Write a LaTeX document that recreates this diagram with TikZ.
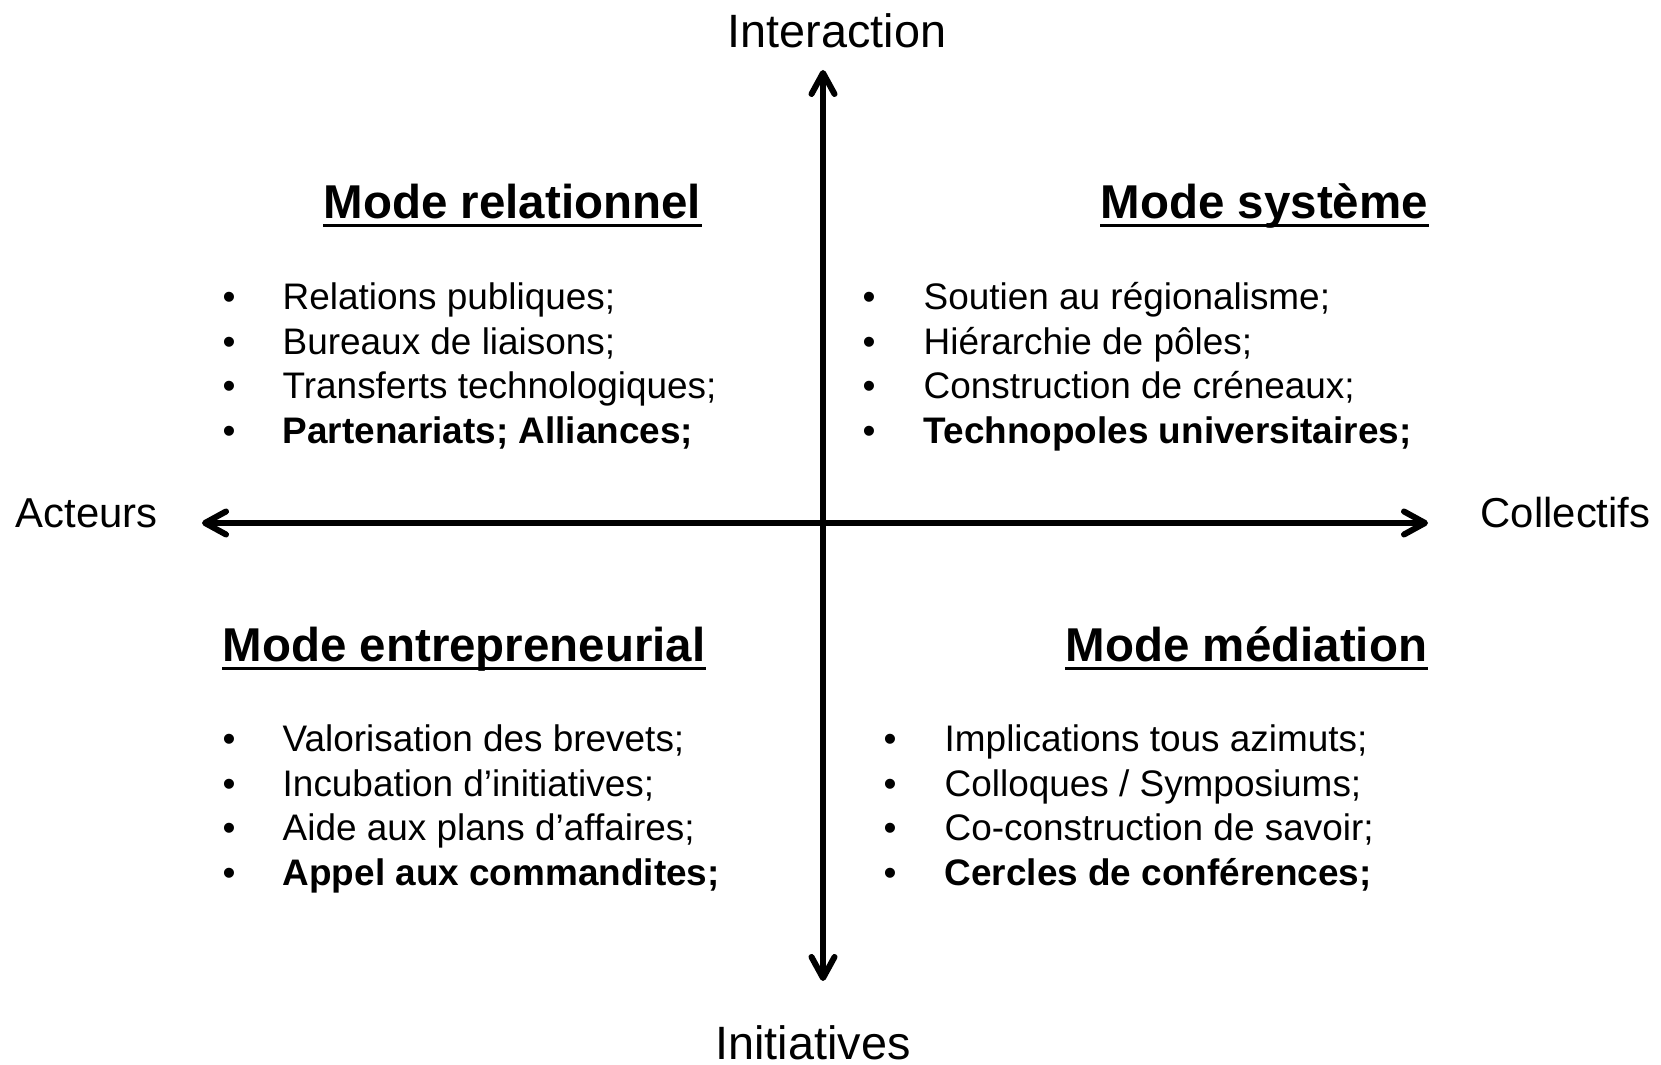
\documentclass[tikz,border=0pt]{standalone}
\usepackage{fontspec}
\setmainfont{Liberation Sans}
\usetikzlibrary{arrows.meta}

\tikzset{
  axe/.style={line width=0.06cm,
    {Straight Barb[length=0.21cm,width=0.23cm,line cap=round,line join=round]}-{Straight Barb[length=0.21cm,width=0.23cm,line cap=round,line join=round]}},
  axev/.style={font=\fontsize{13.3}{16}\selectfont, inner sep=0pt, anchor=base},
  axeh/.style={font=\fontsize{11.9}{14}\selectfont, inner sep=0pt, anchor=base west},
  titre/.style={font=\fontsize{13.5}{16}\selectfont\bfseries, inner sep=0pt, anchor=base west},
  entree/.style={font=\fontsize{10.5}{12.6}\selectfont, inner sep=0pt, anchor=base west},
  puce/.style={font=\fontsize{10.5}{12.6}\selectfont, inner sep=0pt, anchor=base},
  souligne/.style={line width=0.03cm}
}

\begin{document}
\begin{tikzpicture}
[x=0.01cm,y=-0.01cm]
\useasboundingbox (0,0) rectangle (1661,1065);

% axes
\coordinate (haut) at (823,70);
\coordinate (bas) at (823,981);
\coordinate (gauche) at (202,523);
\coordinate (droite) at (1428,523);
\draw[axe] (bas) -- (haut);
\draw[axe] (gauche) -- (droite);

\node[axev] (interaction) at (837,48) {Interaction};
\node[axev] (initiatives) at (813,1060) {Initiatives};
\node[axeh] (acteurs) at (15,528) {Acteurs};
\node[axeh] (collectifs) at (1480,528) {Collectifs};

% titres
\node[titre] (relationnel) at (323,219) {Mode relationnel};
\node[titre] (systeme) at (1100,219) {Mode système};
\node[titre] (entrepreneurial) at (222,662) {Mode entrepreneurial};
\node[titre] (mediation) at (1065,662) {Mode médiation};
\foreach \t in {relationnel,systeme,entrepreneurial,mediation}{
\draw[souligne] ([yshift=-0.07cm]\t.base west) -- ([yshift=-0.07cm]\t.base east);
}

% listes
\foreach \txt [count=\i] in {Relations publiques;, Bureaux de liaisons;, Transferts technologiques;, \textbf{Partenariats; Alliances;}}{
\node[puce] (relp-\i) at ({229},{310+44.5*(\i-1)}) {•};
\node[entree] (rel-\i) at ({282},{310+44.5*(\i-1)}) {\txt};
}
\foreach \txt [count=\i] in {Soutien au régionalisme;, Hiérarchie de pôles;, Construction de créneaux;, \textbf{Technopoles universitaires;}}{
\node[puce] (sysp-\i) at ({869},{310+44.5*(\i-1)}) {•};
\node[entree] (sys-\i) at ({923},{310+44.5*(\i-1)}) {\txt};
}
\foreach \txt [count=\i] in {Valorisation des brevets;, Incubation d’initiatives;, Aide aux plans d’affaires;, \textbf{Appel aux commandites;}}{
\node[puce] (entp-\i) at ({229},{752+44.5*(\i-1)}) {•};
\node[entree] (ent-\i) at ({282},{752+44.5*(\i-1)}) {\txt};
}
\foreach \txt [count=\i] in {Implications tous azimuts;, Colloques / Symposiums;, Co-construction de savoir;, \textbf{Cercles de conférences;}}{
\node[puce] (medp-\i) at ({890},{752+44.5*(\i-1)}) {•};
\node[entree] (med-\i) at ({944},{752+44.5*(\i-1)}) {\txt};
}
\end{tikzpicture}
\end{document}
